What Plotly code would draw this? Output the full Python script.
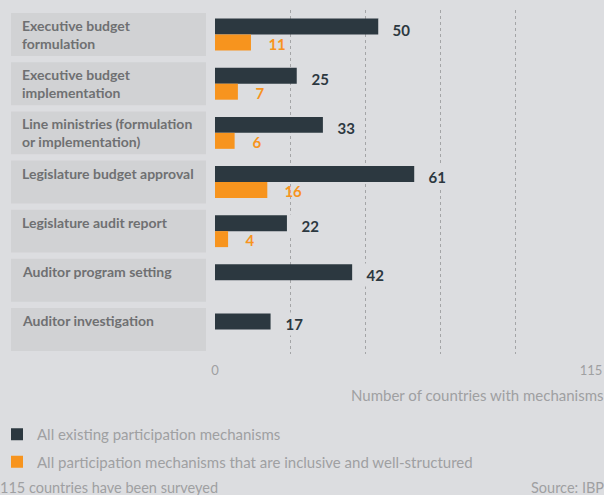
import plotly.graph_objects as go

categories = [
    "Executive budget<br>formulation",
    "Executive budget<br>implementation",
    "Line ministries (formulation<br>or implementation)",
    "Legislature budget approval",
    "Legislature audit report",
    "Auditor program setting",
    "Auditor investigation",
]
all_existing = [50, 25, 33, 61, 22, 42, 17]
inclusive = [11, 7, 6, 16, 4, None, None]
tick_vals = [0, 23, 46, 69, 92, 115]
tick_text = ["0", "", "", "", "", "115"]

BG = "#dcdde0"
BOX = "#d1d2d4"
DARK = "#2c3840"
ORANGE = "#f7941e"
GREY_TXT = "#6f7072"
LIGHT_TXT = "#9fa0a2"
FONT = "Lato"

W, H = 604, 495
ML, MR, MT, MB = 215, 13, 10, 141
PW = W - ML - MR
PH = H - MT - MB

def px_to_paper_x(px):
    return (px - ML) / PW

def px_to_paper_y(py):
    return (H - MB - py) / PH

idx = list(range(len(categories)))

fig = go.Figure()
fig.add_trace(go.Bar(
    y=idx, x=all_existing, orientation="h", name="All existing participation mechanisms",
    legendgroup="a", marker=dict(color=DARK, line=dict(width=0)), hoverinfo="skip",
))
fig.add_trace(go.Bar(
    y=idx, x=inclusive, orientation="h",
    name="All participation mechanisms that are inclusive and well-structured",
    legendgroup="b", marker=dict(color=ORANGE, line=dict(width=0)), hoverinfo="skip",
))

shapes = []
annotations = []
for i, cat in enumerate(categories):
    shapes.append(dict(type="rect", xref="paper", yref="y", layer="below",
                       x0=px_to_paper_x(11), x1=px_to_paper_x(206),
                       y0=i - 0.437, y1=i + 0.437, fillcolor=BOX, line=dict(width=0)))
    annotations.append(dict(xref="paper", yref="y", x=px_to_paper_x(20), y=i - 0.437,
                            xanchor="left", yanchor="top", yshift=-2, align="left",
                            text="<b>" + cat + "</b>", showarrow=False,
                            font=dict(family=FONT, size=14, color=GREY_TXT)))
    v = all_existing[i]
    annotations.append(dict(xref="x", yref="y", x=v, y=i, xanchor="left", yanchor="middle",
                            yshift=5, text="\u00a0\u00a0\u00a0<b>%d</b>\u00a0" % v,
                            showarrow=False, bgcolor=BG, borderpad=2,
                            font=dict(family=FONT, size=15, color=DARK)))
    o = inclusive[i]
    if o is not None:
        annotations.append(dict(xref="x", yref="y", x=o, y=i, xanchor="left", yanchor="middle",
                                yshift=-9, text="\u00a0\u00a0\u00a0\u00a0<b>%d</b>" % o,
                                showarrow=False,
                                font=dict(family=FONT, size=15, color=ORANGE)))

annotations.append(dict(xref="paper", yref="paper", x=px_to_paper_x(606), y=px_to_paper_y(395),
                        xanchor="right", yanchor="middle", showarrow=False,
                        text="Number of countries with mechanisms",
                        font=dict(family=FONT, size=15, color=LIGHT_TXT)))
annotations.append(dict(xref="paper", yref="paper", x=px_to_paper_x(-2), y=px_to_paper_y(487),
                        xanchor="left", yanchor="middle", showarrow=False,
                        text="115 countries have been surveyed",
                        font=dict(family=FONT, size=14.5, color=LIGHT_TXT)))
annotations.append(dict(xref="paper", yref="paper", x=px_to_paper_x(606), y=px_to_paper_y(487),
                        xanchor="right", yanchor="middle", showarrow=False,
                        text="Source: IBP",
                        font=dict(family=FONT, size=14.5, color=LIGHT_TXT)))

fig.update_layout(
    width=W, height=H,
    margin=dict(l=ML, r=MR, t=MT, b=MB, autoexpand=False),
    paper_bgcolor=BG, plot_bgcolor=BG,
    barmode="group", bargap=0.35, bargroupgap=0,
    showlegend=True,
    legend=dict(x=px_to_paper_x(-3), xanchor="left", y=px_to_paper_y(418), yanchor="top",
                bgcolor="rgba(0,0,0,0)", font=dict(family=FONT, size=15, color=LIGHT_TXT),
                traceorder="grouped", tracegroupgap=5, itemclick=False, itemdoubleclick=False),
    shapes=shapes, annotations=annotations,
    xaxis=dict(range=[0, 115], tickvals=tick_vals, ticktext=tick_text, showgrid=True,
               gridcolor="#a4a5a7", griddash="dot", gridwidth=1, zeroline=False,
               showline=False, ticks="", ticklabelstandoff=7,
               tickfont=dict(family=FONT, size=13, color=LIGHT_TXT), fixedrange=True),
    yaxis=dict(range=[len(categories) - 0.5, -0.5], showticklabels=False, showgrid=False,
               zeroline=False, showline=False, ticks="", fixedrange=True),
    font=dict(family=FONT),
)

fig.write_html("out.html", config={"displayModeBar": False},
               post_script="document.body.style.margin='0';document.body.style.overflow='hidden';")
